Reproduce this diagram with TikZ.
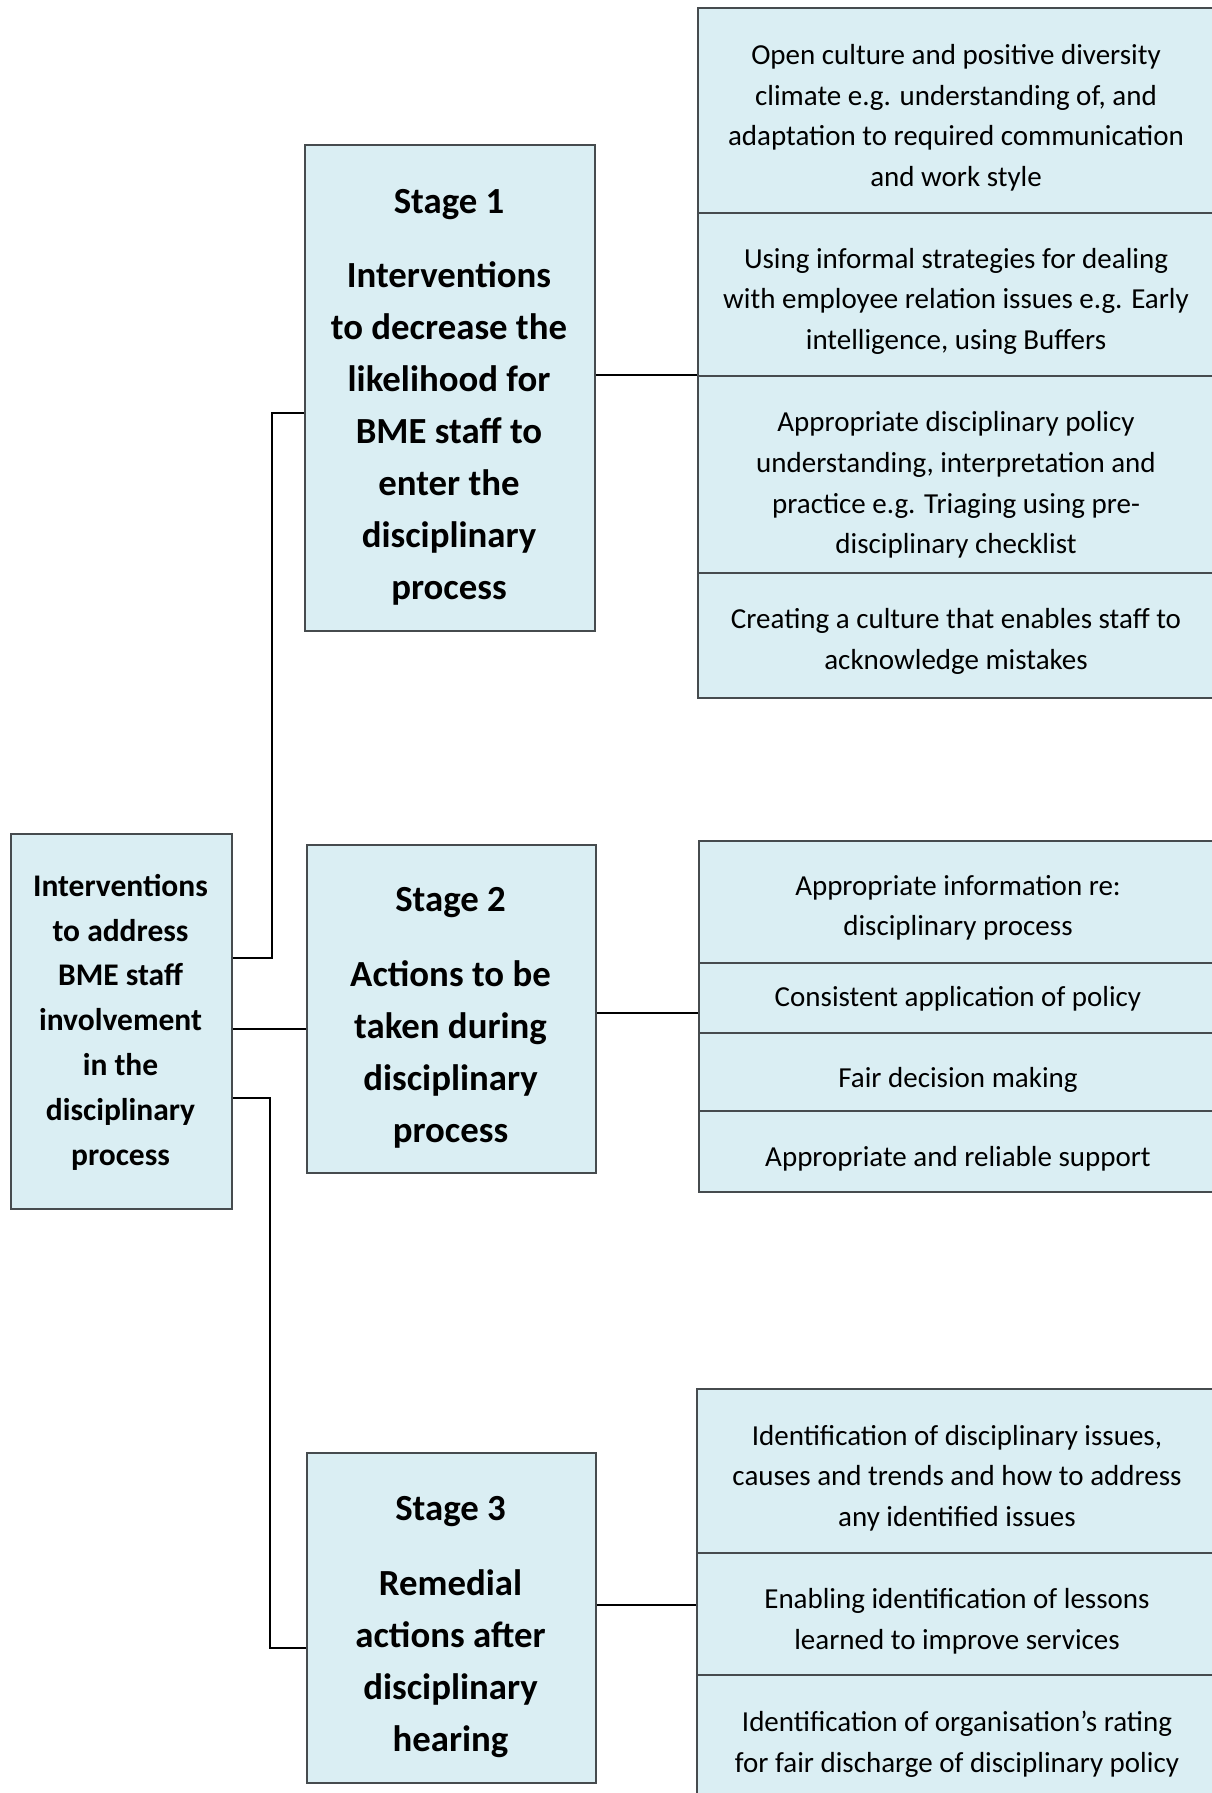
\documentclass[tikz,border=0pt]{standalone}
\usepackage{fontspec}
\setmainfont{Carlito}
\definecolor{boxfill}{HTML}{DAEEF3}
\definecolor{boxline}{RGB}{70,75,78}
\tikzset{
  box/.style={draw=boxline, fill=boxfill, line width=1.8pt, rectangle, inner sep=0pt, anchor=north west},
  bodytxt/.style={font=\fontsize{29}{40.6}\selectfont, align=center, inner sep=0pt, anchor=north, yshift=28.42pt},
  maintxt/.style={font=\fontsize{31.5}{44.8}\selectfont\bfseries, align=center, inner sep=0pt, anchor=north, yshift=31.36pt},
  stagetxt/.style={font=\fontsize{36.8}{52.1}\selectfont\bfseries, align=center, inner sep=0pt, anchor=north, yshift=36.47pt},
  conn/.style={draw=black, line width=1.5pt}
}
\begin{document}
\begin{tikzpicture}[x=1pt,y=-1pt]
\useasboundingbox (0,0) rectangle (1211,1793);
% boxes
\node[box, minimum width=221pt, minimum height=375pt] (main) at (10,833) {};
\node[box, minimum width=290pt, minimum height=486pt] (S1) at (304,144) {};
\node[box, minimum width=289pt, minimum height=328pt] (S2) at (306,844) {};
\node[box, minimum width=289pt, minimum height=330pt] (S3) at (306,1452) {};
\node[box, minimum width=518pt, minimum height=205pt] (R1A) at (697,7) {};
\node[box, minimum width=518pt, minimum height=163pt] (R1B) at (697,212) {};
\node[box, minimum width=518pt, minimum height=197pt] (R1C) at (697,375) {};
\node[box, minimum width=518pt, minimum height=125pt] (R1D) at (697,572) {};
\node[box, minimum width=518pt, minimum height=122pt] (R2A) at (698,840) {};
\node[box, minimum width=518pt, minimum height=70pt] (R2B) at (698,962) {};
\node[box, minimum width=518pt, minimum height=78pt] (R2C) at (698,1032) {};
\node[box, minimum width=518pt, minimum height=81pt] (R2D) at (698,1110) {};
\node[box, minimum width=519pt, minimum height=164pt] (R3A) at (696,1388) {};
\node[box, minimum width=519pt, minimum height=122pt] (R3B) at (696,1552) {};
\node[box, minimum width=519pt, minimum height=130pt] (R3C) at (696,1674) {};
% connectors
\draw[conn] ([yshift=63.5pt]main.east) -- ++(39,0) |- ([yshift=-25pt]S1.west);
\draw[conn] ([yshift=-7.5pt]main.east) -- ([yshift=-7.5pt]main.east -| S2.west);
\draw[conn] ([yshift=-76.5pt]main.east) -- ++(37,0) |- ([yshift=-30pt]S3.west);
\draw[conn] (S1.east |- R1C.north west) -- (R1C.north west);
\draw[conn] ([yshift=-4pt]S2.east) -- ([yshift=-4pt]S2.east -| R2B.west);
\draw[conn] ([yshift=13pt]S3.east) -- ([yshift=13pt]S3.east -| R3B.west);
% texts
\node[maintxt] (tmain) at (120.5,896) {\strut Interventions\\to address\\BME staff\\involvement\\in the\\disciplinary\\process};
\node[stagetxt] (tS1) at (449,213.3) {\strut Stage 1\\[21.6pt]Interventions\\to decrease the\\likelihood for\\BME staff to\\enter the\\disciplinary\\process};
\node[stagetxt] (tS2) at (450.5,911.7) {\strut Stage 2\\[22.5pt]Actions to be\\taken during\\disciplinary\\process};
\node[stagetxt] (tS3) at (450.5,1520) {\strut Stage 3\\[22.9pt]Remedial\\actions after\\disciplinary\\hearing};
\node[bodytxt] (tR1A) at (956,64.3) {\strut Open culture and positive diversity\\climate e.g. understanding of, and\\adaptation to required communication\\and work style};
\node[bodytxt] (tR1B) at (956,268) {\strut Using informal strategies for dealing\\with employee relation issues e.g. Early\\intelligence, using Buffers};
\node[bodytxt] (tR1C) at (956,431.7) {\strut Appropriate disciplinary policy\\understanding, interpretation and\\practice e.g. Triaging using pre-\\disciplinary checklist};
\node[bodytxt] (tR1D) at (956,628.3) {\strut Creating a culture that enables staff to\\acknowledge mistakes};
\node[bodytxt] (tR2A) at (958,895) {\strut Appropriate information re:\\disciplinary process};
\node[bodytxt] (tR2B) at (958,1006.7) {\strut Consistent application of policy};
\node[bodytxt] (tR2C) at (958,1087.3) {\strut Fair decision making};
\node[bodytxt] (tR2D) at (958,1166.7) {\strut Appropriate and reliable support};
\node[bodytxt] (tR3A) at (957,1445) {\strut Identification of disciplinary issues,\\causes and trends and how to address\\any identified issues};
\node[bodytxt] (tR3B) at (957,1608.3) {\strut Enabling identification of lessons\\learned to improve services};
\node[bodytxt] (tR3C) at (957,1731.7) {\strut Identification of organisation’s rating\\for fair discharge of disciplinary policy};
\end{tikzpicture}
\end{document}
